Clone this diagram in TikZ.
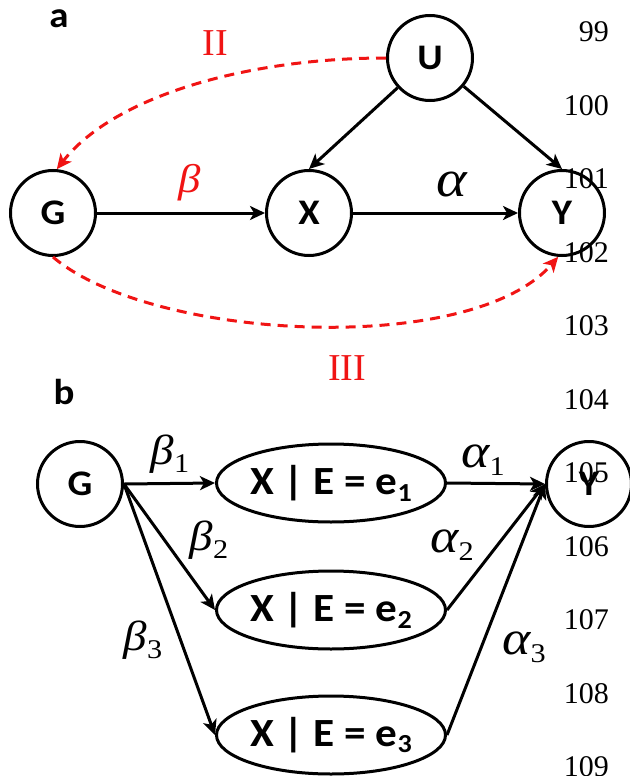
\RequirePackage{fix-cm}
\documentclass[tikz,border=0pt]{standalone}
\usepackage{fontspec}
\setmainfont{Liberation Serif}
\newfontfamily\carlitofont{Carlito}[FakeStretch=1.08]
\newfontfamily\greekfont{Liberation Serif}[FakeStretch=1.12]
\usetikzlibrary{arrows.meta,shapes.geometric}
\definecolor{redline}{RGB}{240,20,20}
\newcommand\subdig[1]{\raisebox{-8pt}{\upshape\fontsize{27}{27}\selectfont #1}}
\begin{document}
\begin{tikzpicture}[x=1pt,y=-1pt,
  circnode/.style={circle,draw,line width=3pt,minimum size=85pt,inner sep=0pt,font=\carlitofont\bfseries\fontsize{36}{36}\selectfont},
  ellnode/.style={ellipse,draw,line width=3pt,minimum width=222pt,minimum height=78pt,inner sep=0pt,font=\carlitofont\bfseries\fontsize{40}{40}\selectfont},
  arr/.style={line width=3pt,-{Stealth[length=15pt,width=14pt,inset=4pt]}},
  redarr/.style={line width=3pt,dash pattern=on 10pt off 7pt,draw=redline,-{Stealth[length=15pt,width=14pt,inset=4pt]}},
  betalab/.style={inner sep=0pt,font=\greekfont\itshape\fontsize{42}{42}\selectfont},
  alphalab/.style={inner sep=0pt,font=\greekfont\itshape\fontsize{48}{48}\selectfont},
  lineno/.style={anchor=east,inner sep=0pt,font=\fontsize{30}{30}\selectfont},
  panel/.style={inner sep=0pt,font=\carlitofont\bfseries\fontsize{36}{36}\selectfont},
  roman/.style={inner sep=0pt,text=redline,font=\fontsize{38}{38}\selectfont}
]
\useasboundingbox (0,0) rectangle (629,776);

% ---------- panel a ----------
\node[panel] (pa) at (59,19) {a};
\node[circnode] (Ga) at (53,213) {G};
\node[circnode] (Xa) at (309,213) {X};
\node[circnode] (Ya) at (562,213) {Y};
\node[circnode] (Ua) at (430,58) {U};

\draw[arr] (Ga) -- (Xa);
\draw[arr] (Xa) -- (Ya);
\draw[arr] (Ua) -- (Xa.north);
\draw[arr] (Ua) -- (Ya.north);

\node[betalab,text=redline,font=\greekfont\itshape\fontsize{40}{40}\selectfont] (beta) at (190,183) {β};
\node[alphalab,font=\greekfont\itshape\fontsize{52}{52}\selectfont] (alpha) at (452,185) {α};

\draw[redarr] (Ua.west) .. controls (250,58) and (115,95) .. (Ga.85);
\draw[redarr] (Ga.south) .. controls (150,340) and (470,358) .. (Ya.265);

\node[roman] (two) at (215,43) {II};
\node[roman] (three) at (347,368) {III};

% ---------- panel b ----------
\node[panel] (pb) at (64,392) {b};
\node[circnode] (Gb) at (80,484) {G};
\node[circnode] (Yb) at (589,484) {Y};
\node[ellnode] (E1) at (331,483) {X | E = e\raisebox{-0.17em}{\fontsize{26}{26}\selectfont 1}};
\node[ellnode] (E2) at (331,610) {X | E = e\raisebox{-0.17em}{\fontsize{26}{26}\selectfont 2}};
\node[ellnode] (E3) at (331,735) {X | E = e\raisebox{-0.17em}{\fontsize{26}{26}\selectfont 3}};

\draw[arr] (Gb.east) -- (E1.west);
\draw[arr] (Gb.east) -- (E2.west);
\draw[arr] (Gb.east) -- (E3.west);
\draw[arr] (E1.east) -- (Yb.west);
\draw[arr] (E2.east) -- (Yb.west);
\draw[arr] (E3.east) -- (Yb.west);

\node[betalab] (b1) at (170,454) {β\subdig{1}};
\node[betalab] (b2) at (209,540) {β\subdig{2}};
\node[betalab] (b3) at (143,640) {β\subdig{3}};
\node[alphalab] (a1) at (483,460) {α\subdig{1}};
\node[alphalab] (a2) at (452,545) {α\subdig{2}};
\node[alphalab] (a3) at (524,647) {α\subdig{3}};

% ---------- line numbers ----------
\foreach \n/\yy in {99/32,100/105.5,101/179,102/252.5,103/326,104/399.5,105/473,106/546.5,107/620,108/693.5,109/767}
  \node[lineno] (ln\n) at (609,\yy) {\n};
\end{tikzpicture}
\end{document}
